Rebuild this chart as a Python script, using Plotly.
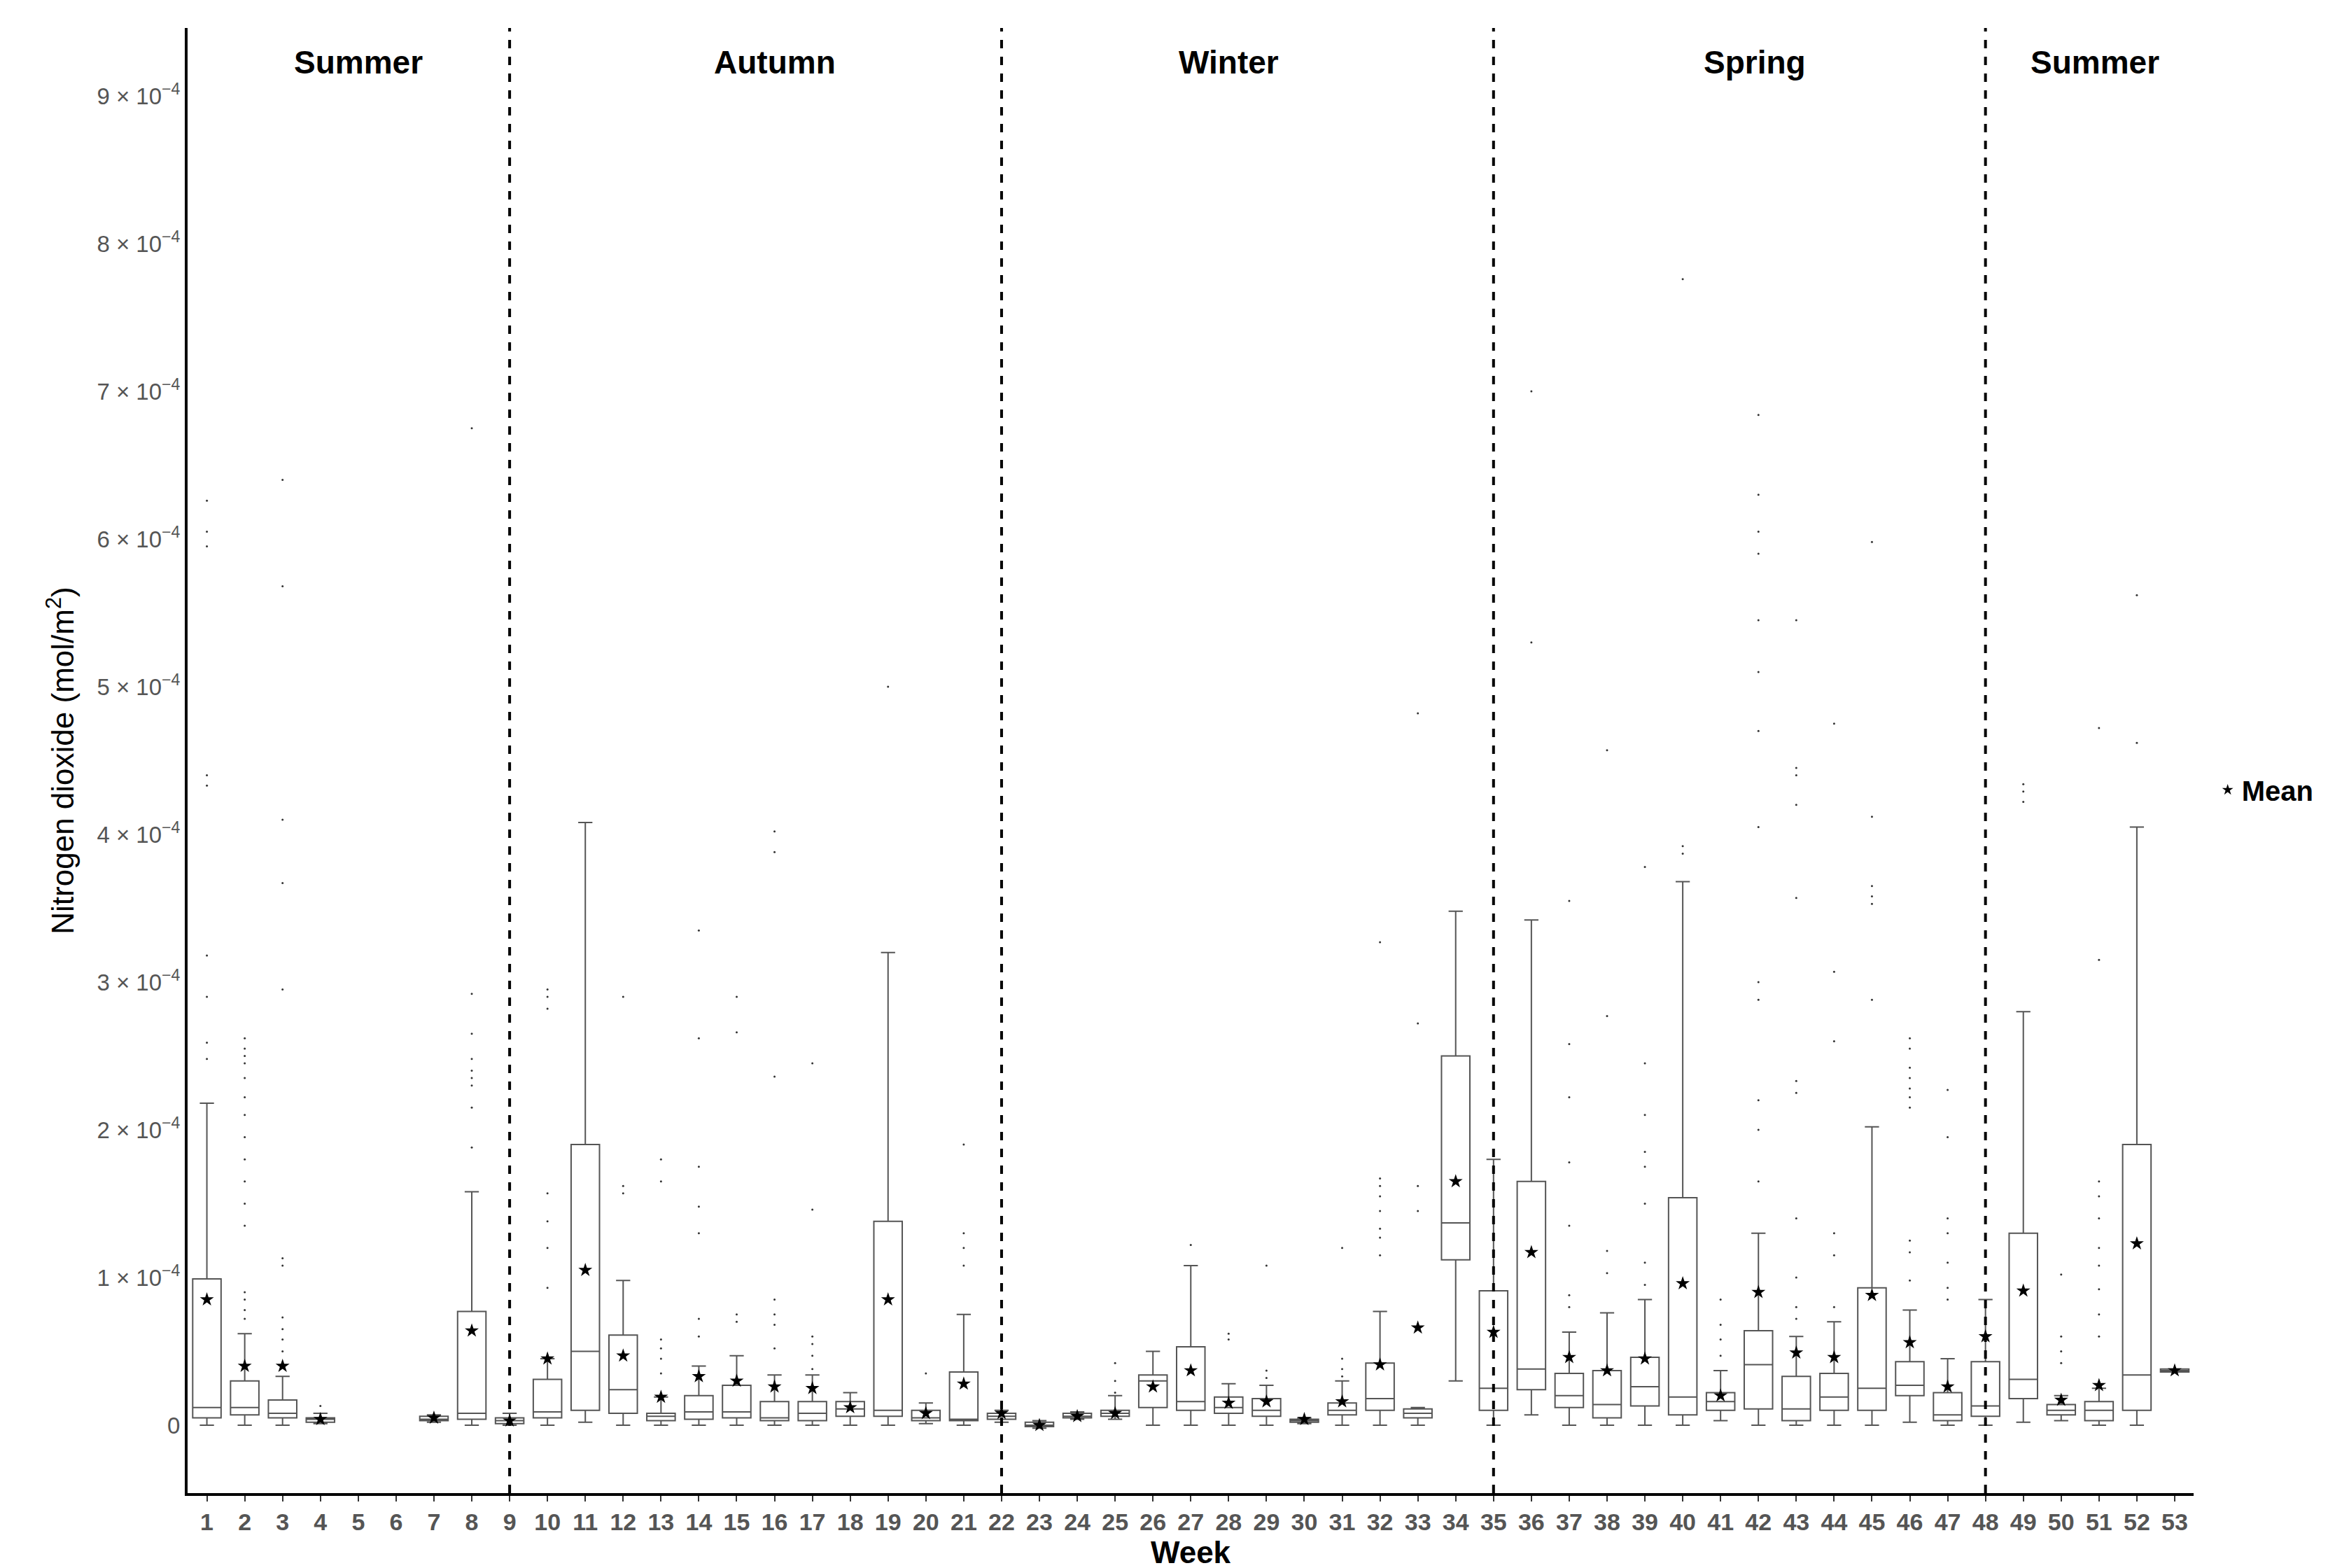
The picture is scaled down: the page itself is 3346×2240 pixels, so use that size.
import plotly.graph_objs as go

# box statistics per week, units of 1e-4 mol/m2
weeks = [1, 2, 3, 4, 7, 8, 9, 10, 11, 12, 13, 14, 15, 16, 17, 18, 19, 20, 21, 22, 23, 24, 25, 26, 27,
         28, 29, 30, 31, 32, 33, 34, 35, 36, 37, 38, 39, 40, 41, 42, 43, 44, 45, 46, 47, 48, 49, 50,
         51, 52, 53]
q1 = [0.05, 0.07, 0.05, 0.02, 0.03, 0.04, 0.01, 0.05, 0.10, 0.08, 0.03, 0.04, 0.05, 0.03, 0.03, 0.06,
      0.06, 0.03, 0.03, 0.04, -0.01, 0.05, 0.06, 0.12, 0.10, 0.08, 0.06, 0.02, 0.07, 0.10, 0.05, 1.12,
      0.10, 0.24, 0.12, 0.05, 0.13, 0.07, 0.10, 0.11, 0.03, 0.10, 0.10, 0.20, 0.03, 0.06, 0.18, 0.07,
      0.03, 0.10, 0.36]
median = [0.12, 0.12, 0.08, 0.04, 0.04, 0.08, 0.03, 0.09, 0.50, 0.24, 0.06, 0.09, 0.09, 0.05, 0.08, 0.11,
          0.10, 0.05, 0.04, 0.06, 0.00, 0.06, 0.08, 0.30, 0.16, 0.12, 0.10, 0.03, 0.10, 0.18, 0.08, 1.37,
          0.25, 0.38, 0.20, 0.14, 0.26, 0.19, 0.16, 0.41, 0.11, 0.19, 0.25, 0.27, 0.07, 0.13, 0.31, 0.10,
          0.10, 0.34, 0.37]
q3 = [0.99, 0.30, 0.17, 0.05, 0.06, 0.77, 0.05, 0.31, 1.90, 0.61, 0.08, 0.20, 0.27, 0.16, 0.16, 0.16,
      1.38, 0.10, 0.36, 0.08, 0.02, 0.08, 0.10, 0.34, 0.53, 0.19, 0.18, 0.04, 0.15, 0.42, 0.11, 2.50,
      0.91, 1.65, 0.35, 0.37, 0.46, 1.54, 0.22, 0.64, 0.33, 0.35, 0.93, 0.43, 0.22, 0.43, 1.30, 0.14,
      0.16, 1.90, 0.38]
lower = [0, 0, 0, 0.01, 0.02, 0, 0, 0, 0.02, 0, 0, 0, 0, 0, 0, 0, 0, 0.01, 0, 0.02, -0.02, 0.04, 0.04,
         0, 0, 0, 0, 0.01, 0, 0, 0, 0.30, 0, 0.07, 0, 0, 0, 0, 0.03, 0, 0, 0, 0, 0.02, 0, 0, 0.02, 0.03,
         0, 0, 0.36]
upper = [2.18, 0.62, 0.33, 0.08, 0.07, 1.58, 0.08, 0.45, 4.08, 0.98, 0.19, 0.40, 0.47, 0.34, 0.34, 0.22,
         3.20, 0.15, 0.75, 0.10, 0.03, 0.09, 0.20, 0.50, 1.08, 0.28, 0.27, 0.05, 0.30, 0.77, 0.12, 3.48,
         1.80, 3.42, 0.63, 0.76, 0.85, 3.68, 0.37, 1.30, 0.60, 0.70, 2.02, 0.78, 0.45, 0.85, 2.80, 0.20,
         0.25, 4.05, 0.38]
mean = [0.85, 0.40, 0.40, 0.04, 0.05, 0.64, 0.03, 0.45, 1.05, 0.47, 0.19, 0.33, 0.30, 0.26, 0.25, 0.12,
        0.85, 0.08, 0.28, 0.08, 0.00, 0.06, 0.08, 0.26, 0.37, 0.15, 0.16, 0.04, 0.16, 0.41, 0.66, 1.65,
        0.63, 1.17, 0.46, 0.37, 0.45, 0.96, 0.20, 0.90, 0.49, 0.46, 0.88, 0.56, 0.26, 0.60, 0.91, 0.17,
        0.27, 1.23, 0.37]
outliers = {
    1: [6.26, 6.05, 5.95, 4.4, 4.33, 3.18, 2.9, 2.59, 2.48],
    2: [2.62, 2.55, 2.5, 2.45, 2.35, 2.22, 2.1, 1.95, 1.8, 1.65, 1.5, 1.35, 0.9, 0.85, 0.78, 0.72],
    3: [6.4, 5.68, 4.1, 3.67, 2.95, 1.13, 1.08, 0.73, 0.65, 0.58, 0.5],
    4: [0.13],
    8: [6.75, 2.92, 2.65, 2.48, 2.4, 2.35, 2.3, 2.15, 1.88],
    10: [2.95, 2.9, 2.82, 1.57, 1.38, 1.2, 0.93],
    12: [2.9, 1.62, 1.57],
    13: [1.8, 1.65, 0.58, 0.52, 0.45, 0.35],
    14: [3.35, 2.62, 1.75, 1.48, 1.3, 0.72, 0.6],
    15: [2.9, 2.66, 0.75, 0.7],
    16: [4.02, 3.88, 2.36, 0.85, 0.75, 0.68, 0.52],
    17: [2.45, 1.46, 0.6, 0.55, 0.47, 0.38],
    19: [5.0],
    20: [0.35],
    21: [1.9, 1.3, 1.2, 1.08],
    25: [0.42, 0.3, 0.22],
    27: [1.22],
    28: [0.62, 0.58],
    29: [1.08, 0.37, 0.32],
    31: [1.2, 0.45, 0.38, 0.33],
    32: [3.27, 1.67, 1.62, 1.55, 1.45, 1.33, 1.27, 1.15],
    33: [4.82, 2.72, 1.62, 1.45],
    36: [7.0, 5.3],
    37: [3.55, 2.58, 2.22, 1.78, 1.35, 0.88, 0.8],
    38: [4.57, 2.77, 1.18, 1.03],
    39: [3.78, 2.45, 2.1, 1.85, 1.75, 1.5, 1.1, 0.95],
    40: [7.76, 3.92, 3.87],
    41: [0.85, 0.68, 0.58, 0.47],
    42: [6.84, 6.3, 6.05, 5.9, 5.45, 5.1, 4.7, 4.05, 3.0, 2.88, 2.2, 2.0, 1.65],
    43: [5.45, 4.45, 4.4, 4.2, 3.57, 2.33, 2.25, 1.4, 1.0, 0.8, 0.72],
    44: [4.75, 3.07, 2.6, 1.3, 1.15, 0.8],
    45: [5.98, 4.12, 3.65, 3.58, 3.53, 2.88],
    46: [2.62, 2.55, 2.42, 2.35, 2.28, 2.22, 2.15, 1.25, 1.17, 0.98],
    47: [2.27, 1.95, 1.4, 1.3, 1.1, 0.93, 0.85],
    49: [4.34, 4.29, 4.22],
    50: [1.02, 0.6, 0.5, 0.42],
    51: [4.72, 3.15, 1.65, 1.55, 1.4, 1.2, 1.08, 0.92, 0.75, 0.6],
    52: [5.62, 4.62],
}
season_names = ["Summer", "Autumn", "Winter", "Spring", "Summer"]
season_centers = [5.0, 16.0, 28.0, 41.9, 50.9]
season_breaks = [9, 22, 35, 48]

S = 1e-4
sc = lambda v: [a * S for a in v]

fig = go.Figure()
fig.add_trace(go.Box(
    x=weeks, q1=sc(q1), median=sc(median), q3=sc(q3),
    lowerfence=sc(lower), upperfence=sc(upper),
    width=0.75, fillcolor="white", line=dict(color="#555555", width=2),
    boxpoints=False, showlegend=False, hoverinfo="skip"))

ox, oy = [], []
for w, vals in outliers.items():
    ox += [w] * len(vals)
    oy += sc(vals)
fig.add_trace(go.Scatter(x=ox, y=oy, mode="markers", showlegend=False,
                         marker=dict(color="#333333", size=3)))
fig.add_trace(go.Scatter(x=weeks, y=sc(mean), mode="markers", name="<b>Mean</b>",
                         marker=dict(symbol="star", color="black", size=15)))

for b in season_breaks:
    fig.add_shape(type="line", x0=b, x1=b, y0=0, y1=1, yref="paper",
                  line=dict(color="black", width=4, dash="dash"))
for name, c in zip(season_names, season_centers):
    fig.add_annotation(x=c, y=0.99, yref="paper", text="<b>%s</b>" % name, showarrow=False,
                       yanchor="top", font=dict(size=46, color="black"))

tickvals = [i * S for i in range(10)]
ticktext = ["0"] + ["%d × 10<sup>−4</sup>" % i for i in range(1, 10)]
xticktext = ["<b>%d</b>" % i for i in range(1, 54)]

fig.update_layout(
    width=3346, height=2240, plot_bgcolor="white", paper_bgcolor="white",
    font=dict(family="Liberation Sans, Arial", color="black"),
    margin=dict(l=260, r=220, t=32, b=115),
    legend=dict(x=1.01, y=0.48, yanchor="middle", font=dict(size=40, color="black"),
                itemsizing="constant"),
    xaxis=dict(range=[0.49, 53.5], tickvals=list(range(1, 54)), ticktext=xticktext, showgrid=False,
               zeroline=False, showline=True, linecolor="black", linewidth=4,
               ticks="outside", ticklen=8, tickcolor="#333", tickwidth=2,
               tickfont=dict(size=34, color="#555"),
               title=dict(text="<b>Week</b>", font=dict(size=44), standoff=0)),
    yaxis=dict(range=[-0.46 * S, 9.46 * S], tickvals=tickvals, ticktext=ticktext,
               showgrid=False, zeroline=False, showline=True, linecolor="black", linewidth=4,
               ticks="", tickfont=dict(size=33, color="#555"),
               title=dict(text="Nitrogen dioxide (mol/m<sup>2</sup>)", font=dict(size=44), standoff=20)),
)
fig.write_html("out.html")
